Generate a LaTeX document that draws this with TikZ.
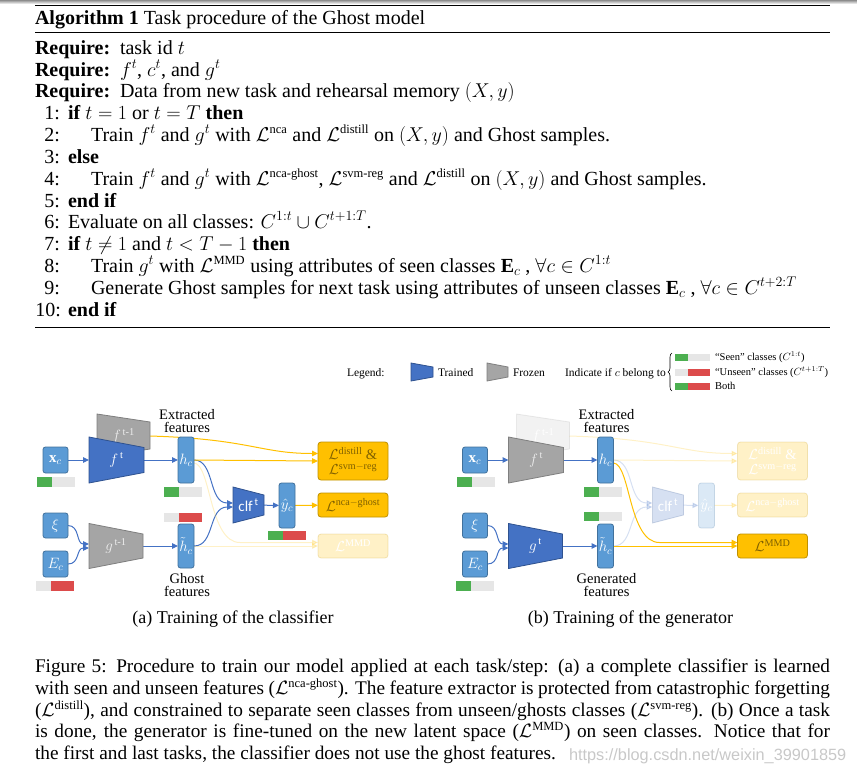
\RequirePackage{fix-cm}
\documentclass[tikz,border=0pt]{standalone}
\usepackage{amsmath,amssymb}
\usepackage{fontspec}
\setmainfont{Liberation Serif}
\setsansfont{Carlito}
\usetikzlibrary{arrows.meta,calc,decorations.pathreplacing}
\pgfdeclarelayer{bg}
\pgfsetlayers{bg,main}
\definecolor{bbox}{HTML}{5B9BD5}
\definecolor{bboxd}{HTML}{41719C}
\definecolor{tblue}{HTML}{4472C4}
\definecolor{tblued}{HTML}{2F528F}
\definecolor{fgray}{HTML}{A5A5A5}
\definecolor{fgrayd}{HTML}{7F7F7F}
\definecolor{orng}{HTML}{FFC000}
\definecolor{orngd}{HTML}{BF9000}
\definecolor{orngt}{HTML}{7F6000}
\definecolor{gbar}{HTML}{4CAF50}
\definecolor{rbar}{HTML}{DC4B4B}
\definecolor{lbar}{HTML}{E6E6E6}
\definecolor{wmark}{HTML}{C8C8C8}
\newcommand\fs[2]{\fontsize{#1}{#2}\selectfont}
\newcommand\Ls[1]{\mathcal{L}^{\text{\fontsize{12.5}{12}\selectfont #1}}}
% class bar: x-left, y-centre, left colour, right colour
\newcommand\cbar[4]{%
  \fill[#3] (#1,#2-4.75) rectangle ++(15,9.5);
  \fill[#4] (#1+15,#2-4.75) rectangle ++(23,9.5);}
\newcommand\lbarx[4]{%
  \fill[#3] (#1,#2-3.5) rectangle ++(13,7);
  \fill[#4] (#1+13,#2-3.5) rectangle ++(22,7);}
% one panel: #1 prefix, #2 generator label
\newcommand\panel[2]{%
  \node[bx, minimum width=25pt, minimum height=26pt] (#1xc) at (55.5,460) {$\mathbf{x}_c$};
  \node[bx, minimum width=25pt, minimum height=25pt] (#1xi) at (55.5,525.5) {$\xi$};
  \node[bx, minimum width=25pt, minimum height=26pt] (#1ec) at (55.5,564) {$E_c$};
  \filldraw[f1S] (97,414) -- (150,422) -- (150,449) -- (97,457) -- cycle;
  \node[f1T, tlab, minimum width=53pt, minimum height=20pt] (#1f1) at (123.5,436) {$f^{\,\text{t-1}}$};
  \filldraw[ftS] (89,437) -- (144,447.5) -- (144,472.5) -- (89,483) -- cycle;
  \node[ftT, tlab, minimum width=55pt, minimum height=20pt] (#1ft) at (116.5,460) {$f^{\,\text{t}}$};
  \filldraw[gS] (89,523.5) -- (143,534) -- (143,558) -- (89,568.5) -- cycle;
  \node[gT, tlab, minimum width=54pt, minimum height=20pt] (#1g) at (116,546) {#2};
  \node[bx, minimum width=16pt, minimum height=46pt] (#1hc) at (186,460) {$h_c$};
  \node[bx, minimum width=16pt, minimum height=44pt] (#1ht) at (186,546) {$\tilde h_c$};
  \filldraw[tr, clfO] (233,487) -- (264,495) -- (264,515) -- (233,523) -- cycle;
  \node[clfO, text=white, font=\sffamily\fs{15}{15}, minimum width=31pt, minimum height=20pt] (#1clf) at (248.5,505) {clf$^{\,\text{t}}$};
  \node[bx, clfO, minimum width=16pt, minimum height=45pt] (#1yh) at (287,505.5) {$\hat y_c$};
  \node[loss, dO, minimum height=38pt] (#1ld) at (353,461) {$\mathcal{L}^{\mathrm{distill}}$ \&\\$\mathcal{L}^{\mathrm{svm-reg}}$};
  \node[loss, nO, minimum height=24pt] (#1ln) at (353,505) {$\mathcal{L}^{\mathrm{nca-ghost}}$};
  \node[loss, mO, minimum height=24pt] (#1lm) at (353,546) {$\mathcal{L}^{\mathrm{MMD}}$};
  \begin{pgfonlayer}{bg}
    \draw[ba] (#1xc) -- (#1ft);
    \draw[ba] (#1ft) -- (#1hc);
    \draw[ba] (#1xi.east) .. controls (80,525.5) and (76,544) .. ($(#1g.west)+(0,-2)$);
    \draw[ba] (#1ec.east) .. controls (80,564) and (76,548) .. ($(#1g.west)+(0,2)$);
    \draw[ba] (#1g) -- (#1ht);
    \draw[ba, clfO] (#1hc.east) .. controls (215,460) and (208,503) .. ($(#1clf.west)+(0,-2)$);
    \draw[ba, clfO] (#1ht.east) .. controls (215,546) and (208,507) .. ($(#1clf.west)+(0,2)$);
    \draw[ba, clfO] (#1clf) -- (#1yh);
    \draw[ya, nO] (#1yh) -- (#1ln);
    \draw[ya, dO] (#1hc.east) -- (#1ld.west);
    \draw[ya, dO] (#1f1.east) .. controls (250,439) and (260,453.5) .. ($(#1ld.west)+(0,-7.5)$);
    \draw[ya, mO] ($(#1hc.east)+(0,3)$) .. controls (211,464) and (209,542.5) .. (240,542.5) -- ($(#1lm.west)+(0,-3.5)$);
    \draw[ya, mO] (#1ht.east) -- (#1lm.west);
  \end{pgfonlayer}
  \node[ftxt] (#1ef) at (187,421.5) {Extracted\\features};
}
\begin{document}
\begin{tikzpicture}[x=1pt,y=-1pt,
  every node/.style={inner sep=0pt, outer sep=0pt},
  alg/.style={anchor=base west, font=\fs{20}{22}},
  algn/.style={anchor=base east, font=\fs{20}{22}},
  bx/.style={draw=bboxd, fill=bbox, line width=0.8pt, rounded corners=2.5pt, text=white, font=\fs{15}{15}},
  tr/.style={draw=tblued, fill=tblue, line width=0.8pt},
  fr/.style={draw=fgrayd, fill=fgray, line width=0.8pt},
  tlab/.style={font=\fs{15}{15}},
  loss/.style={draw=orngd, fill=orng, line width=0.8pt, rounded corners=3pt, text=orngt, minimum width=70pt, align=center, font=\fs{14.5}{15.5}},
  ba/.style={draw=tblue, line width=1pt, -{Triangle[length=6pt,width=5.5pt]}},
  ya/.style={draw=orng, line width=1pt, -{Triangle[length=6pt,width=5.5pt]}},
  ftxt/.style={font=\fs{14.5}{13}, align=center},
  lg/.style={font=\fs{11.5}{12}},
  lgs/.style={font=\fs{10.5}{11}},
  fade/.style={opacity=0.22, text=white, text opacity=1},
  captxt/.style={anchor=base west, font=\fs{19.3}{22}}]
\useasboundingbox (0,0) rectangle (857,780);
\shade[top color=black!45, bottom color=white] (0,0) rectangle (857,4);
% ---------------- algorithm ----------------
\draw[line width=1.6pt] (35,5.5) -- (830,5.5);
\node[alg] (title) at (35,24) {\textbf{Algorithm 1} Task procedure of the Ghost model};
\draw[line width=0.8pt] (35,32.5) -- (830,32.5);
\node[alg] (rq1) at (35,54) {\textbf{Require:}};
\node[alg] (rq1t) at (120,54) {task id $t$};
\node[alg] (rq2) at (35,76) {\textbf{Require:}};
\node[alg] (rq2t) at (120,76) {$f^t$, $c^t$, and $g^t$};
\node[alg] (rq3) at (35,97.5) {\textbf{Require:}};
\node[alg] (rq3t) at (120,97.5) {Data from new task and rehearsal memory $(X,y)$};
\node[algn] (n1) at (60,119) {1:};
\node[alg] (l1) at (68,119) {\textbf{if} $t=1$ or $t=T$ \textbf{then}};
\node[algn] (n2) at (60,141) {2:};
\node[alg] (l2) at (91,141) {Train $f^t$ and $g^t$ with $\Ls{nca}$ and $\Ls{distill}$ on $(X,y)$ and Ghost samples.};
\node[algn] (n3) at (60,163) {3:};
\node[alg] (l3) at (68,163) {\textbf{else}};
\node[algn] (n4) at (60,185) {4:};
\node[alg] (l4) at (91,185) {Train $f^t$ and $g^t$ with $\Ls{nca-ghost}$, $\Ls{svm-reg}$ and $\Ls{distill}$ on $(X,y)$ and Ghost samples.};
\node[algn] (n5) at (60,207) {5:};
\node[alg] (l5) at (68,207) {\textbf{end if}};
\node[algn] (n6) at (60,228) {6:};
\node[alg] (l6) at (68,228) {Evaluate on all classes: $C^{1:t}\cup C^{t+1:T}$.};
\node[algn] (n7) at (60,250) {7:};
\node[alg] (l7) at (68,250) {\textbf{if} $t\neq 1$ and $t<T-1$ \textbf{then}};
\node[algn] (n8) at (60,272) {8:};
\node[alg] (l8) at (91,272) {Train $g^t$ with $\Ls{MMD}$ using attributes of seen classes $\mathbf{E}_c$ , $\forall c\in C^{1:t}$};
\node[algn] (n9) at (60,294) {9:};
\node[alg] (l9) at (91,294) {Generate Ghost samples for next task using attributes of unseen classes $\mathbf{E}_c$ , $\forall c\in C^{t+2:T}$};
\node[algn] (n10) at (61,316) {10:};
\node[alg] (l10) at (68,316) {\textbf{end if}};
\draw[line width=1pt] (35,327) -- (830,327);
% ---------------- legend ----------------
\node[lg, anchor=base west] (lgl) at (347,376) {Legend:};
\filldraw[tr] (411,363) -- (433,367) -- (433,377) -- (411,381) -- cycle;
\node[lg, anchor=base west] (lgt) at (438,376) {Trained};
\filldraw[fr] (487,363) -- (508,367) -- (508,377) -- (487,381) -- cycle;
\node[lg, anchor=base west] (lgf) at (513,376) {Frozen};
\node[lg, anchor=base west] (lgi) at (565,376) {Indicate if $c$ belong to};
\draw[line width=0.6pt, decorate, decoration={brace, amplitude=4pt}] (672,391) -- (672,353);
\lbarx{675}{357}{gbar}{lbar}
\lbarx{675}{372}{lbar}{rbar}
\lbarx{675}{386}{gbar}{rbar}
\node[lgs, anchor=west] (ls1) at (715,357) {``Seen'' classes ($C^{1:t}$)};
\node[lgs, anchor=west] (ls2) at (715,372) {``Unseen'' classes ($C^{t+1:T}$)};
\node[lgs, anchor=west] (ls3) at (715,386) {Both};
% ---------------- panel (a) ----------------
\begin{scope}[f1S/.style={fr}, f1T/.style={text=white!85!gray},
  ftS/.style={tr}, ftT/.style={text=white},
  gS/.style={fr}, gT/.style={text=white!85!gray},
  clfO/.style={}, dO/.style={}, nO/.style={}, mO/.style={fade}]
  \panel{a}{$g^{\,\text{t-1}}$}
  \node[ftxt] (agf) at (187,585) {Ghost\\features};
  \cbar{37}{482}{gbar}{lbar}
  \cbar{164}{492}{gbar}{lbar}
  \cbar{164}{517.5}{lbar}{rbar}
  \cbar{36}{586}{lbar}{rbar}
  \cbar{268}{535.5}{gbar}{rbar}
  \node[font=\fs{18}{22}] (capa) at (233,619) {(a) Training of the classifier};
\end{scope}
% ---------------- panel (b) ----------------
\begin{scope}[xshift=419.5pt, f1S/.style={fr, opacity=0.15}, f1T/.style={text=white},
  ftS/.style={fr}, ftT/.style={text=white!85!gray},
  gS/.style={tr}, gT/.style={text=white},
  clfO/.style={fade}, dO/.style={fade}, nO/.style={fade}, mO/.style={}]
  \panel{b}{$g^{\,\text{t}}$}
  \node[ftxt] (bgf) at (187,585) {Generated\\features};
  \cbar{37}{482}{gbar}{lbar}
  \cbar{164}{492}{gbar}{lbar}
  \cbar{164}{516.5}{gbar}{lbar}
  \cbar{36}{586}{gbar}{lbar}
  \node[font=\fs{18}{22}] (capb) at (211,619) {(b) Training of the generator};
\end{scope}
% ---------------- caption ----------------
\node[captxt] (c1) at (35,672) {\makebox[795pt][s]{Figure 5: Procedure to train our model applied at each task/step: (a) a complete classifier is learned}};
\node[captxt] (c2) at (35,694) {\makebox[795pt][s]{with seen and unseen features ($\Ls{nca-ghost}$). The feature extractor is protected from catastrophic forgetting}};
\node[captxt] (c3) at (35,716) {\makebox[795pt][s]{($\Ls{distill}$), and constrained to separate seen classes from unseen/ghosts classes ($\Ls{svm-reg}$). (b) Once a task}};
\node[captxt] (c4) at (35,737) {\makebox[795pt][s]{is done, the generator is fine-tuned on the new latent space ($\Ls{MMD}$) on seen classes. Notice that for}};
\node[captxt] (c5) at (35,759) {the first and last tasks, the classifier does not use the ghost features.};
\node[anchor=base west, text=wmark, font=\fontspec{Liberation Sans}\fs{16.3}{16}] (wm) at (569,760) {https://blog.csdn.net/weixin\_39901859};
\end{tikzpicture}
\end{document}
